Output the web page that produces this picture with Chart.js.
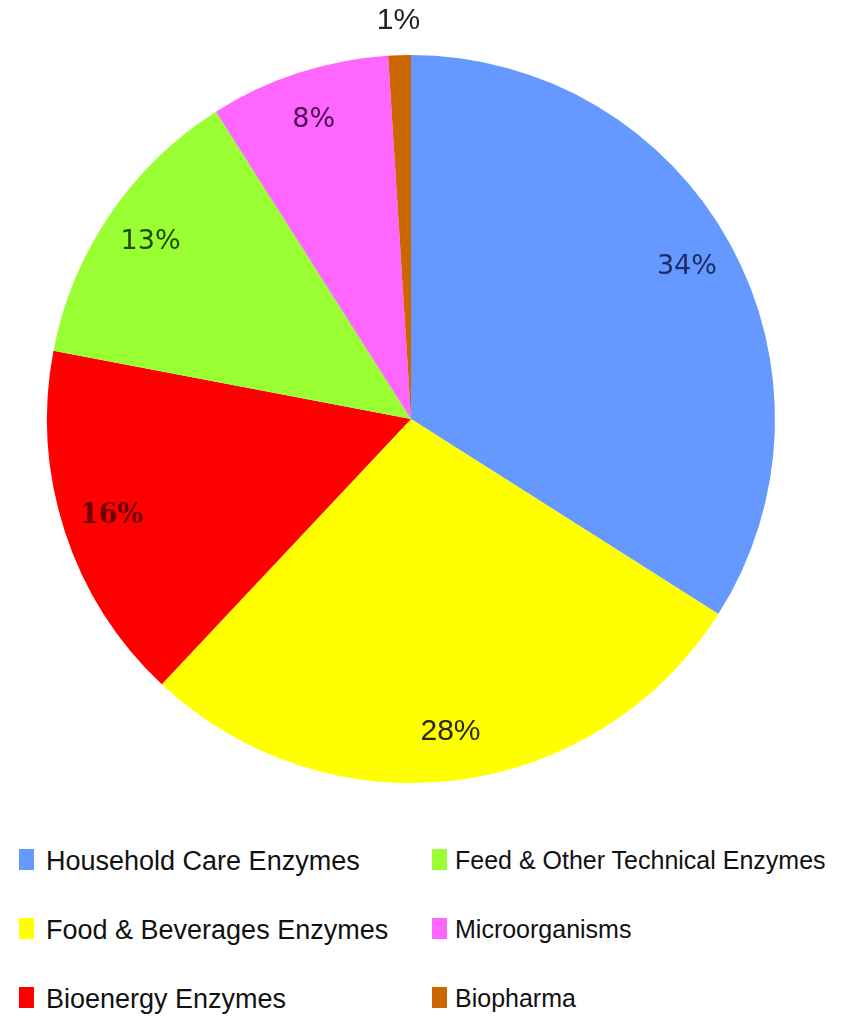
<!DOCTYPE html>
<html>
<head>
<meta charset="utf-8">
<script src="https://cdn.jsdelivr.net/npm/chart.js@4"></script>
<style>
  html, body { margin: 0; padding: 0; background: #fff; }
  body { width: 846px; height: 1017px; position: relative; overflow: hidden; }
  #wrap { position: absolute; left: 0; top: 0; width: 846px; height: 830px; }
  #legend {
    position: absolute; left: 19px; top: 846px;
    display: grid; grid-template-columns: 413px 414px;
    grid-template-rows: 69px 69px 69px; grid-auto-flow: column;
    font-family: "Liberation Sans", Arial, sans-serif; font-size: 27px; color: #111;
  }
  #legend div { display: flex; align-items: flex-start; white-space: nowrap; }
  #legend div.c2 { font-size: 25px; }
  #legend span.box { flex: 0 0 auto; display: inline-block; width: 15px; height: 21px; margin: 3px 12px 0 0; }
  #legend div.c2 span.box { margin: 3px 8px 0 0; }
</style>
</head>
<body>
<div id="wrap"><canvas id="pie"></canvas></div>
<div id="legend"></div>
<script>
const categories = ['Household Care Enzymes', 'Food & Beverages Enzymes', 'Bioenergy Enzymes',
                    'Feed & Other Technical Enzymes', 'Microorganisms', 'Biopharma'];
const shares = [34, 28, 16, 13, 8, 1];
const colors = ['#6699ff', '#ffff00', '#ff0000', '#99ff33', '#ff66ff', '#cc6600'];
const labelColors = ['#1b2d66', '#2a2a10', '#6a0000', '#1f4a00', '#4a1050', '#222222'];

// percent labels drawn at each arc's mid angle
const pctLabels = {
    id: 'pctLabels',
    afterDatasetsDraw(chart) {
        const ctx = chart.ctx;
        const arcs = chart.getDatasetMeta(0).data;
        ctx.save();
        ctx.textAlign = 'center';
        ctx.textBaseline = 'middle';
        arcs.forEach(function(arc, i) {
            const mid = (arc.startAngle + arc.endAngle) / 2;
            const small = shares[i] < 3;
            const r = small ? arc.outerRadius + 34 : arc.outerRadius * 0.865;
            const x = arc.x + Math.cos(mid) * r;
            const y = arc.y + Math.sin(mid) * r;
            if (i === 1 || small) ctx.font = '30px "Liberation Sans", Arial, sans-serif';
            else if (i === 2) ctx.font = 'bold 27px "DejaVu Serif", serif';
            else ctx.font = '27px "DejaVu Sans", Verdana, sans-serif';
            ctx.fillStyle = labelColors[i];
            ctx.fillText(shares[i] + '%', x, y);
        });
        ctx.restore();
    }
};

new Chart(document.getElementById('pie').getContext('2d'), {
    type: 'pie',
    data: {
        labels: categories,
        datasets: [{
            data: shares,
            backgroundColor: colors,
            borderWidth: 0
        }]
    },
    options: {
        responsive: true,
        maintainAspectRatio: false,
        animation: false,
        layout: { padding: { left: 47, right: 71, top: 55, bottom: 47 } },
        plugins: {
            legend: { display: false },
            tooltip: { enabled: false }
        }
    },
    plugins: [pctLabels]
});

const legend = document.getElementById('legend');
categories.forEach(function(name, i) {
    const item = document.createElement('div');
    if (i >= 3) item.className = 'c2';
    item.innerHTML = '<span class="box" style="background:' + colors[i] + '"></span>' + name.replace('&', '&amp;');
    legend.appendChild(item);
});
</script>
</body>
</html>
